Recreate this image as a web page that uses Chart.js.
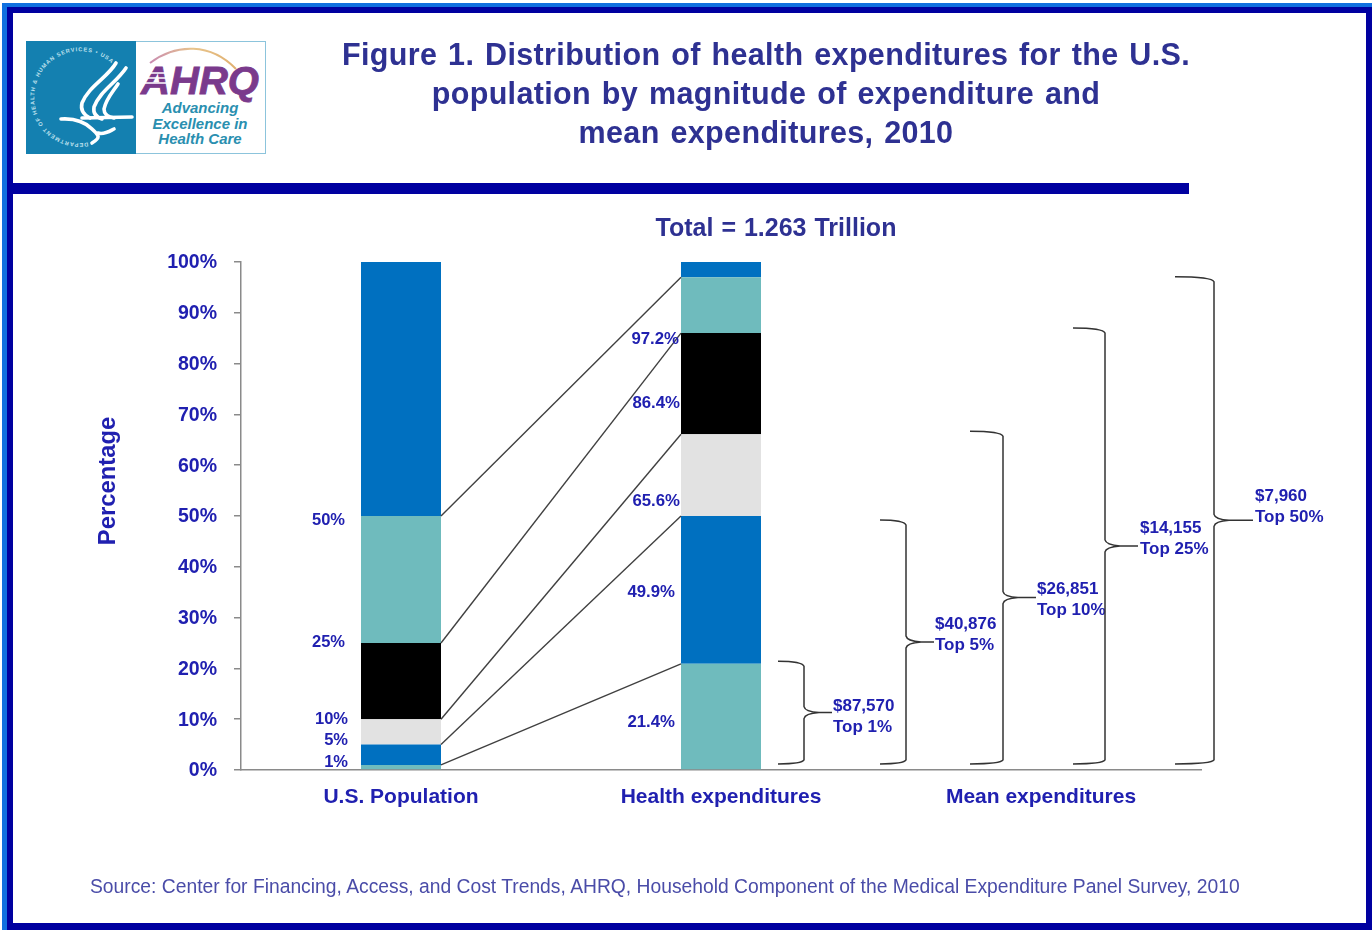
<!DOCTYPE html>
<html><head><meta charset="utf-8">
<script src="https://cdn.jsdelivr.net/npm/chart.js@4"></script>
<style>
html,body{margin:0;padding:0;background:#fff;overflow:hidden}
#page{position:relative;width:1372px;height:930px;background:#fff;font-family:"Liberation Sans",Arial,sans-serif;filter:blur(.35px)}
#b1{position:absolute;left:2px;top:3px;width:1370px;height:927px;background:#1070E0}
#b2{position:absolute;left:7px;top:7px;width:1365px;height:923px;background:#0000A0}
#b3{position:absolute;left:13px;top:13px;width:1353px;height:910px;background:#fff}
#rule{position:absolute;left:13px;top:183px;width:1176px;height:11px;background:#0000A0}
#c{position:absolute;left:0;top:0}
.t{position:absolute;white-space:pre;text-align:center;color:#2E3192;font-weight:bold}
#title{left:266px;width:1000px;top:35px;font-size:30.5px;line-height:39px;word-spacing:2px;letter-spacing:.35px}
#total{left:576px;width:400px;top:212px;font-size:25px;line-height:30px;word-spacing:1px}
#source{left:90px;top:875px;font-size:19.3px;line-height:23px;font-weight:normal;color:#4A4CA8;text-align:left}
#logo{position:absolute;left:26px;top:41px}
</style></head><body>
<div id="page">
<div id="b1"></div><div id="b2"></div><div id="b3"></div><div id="rule"></div>
<canvas id="c" width="1372" height="930"></canvas>
<svg id="logo" width="241" height="114" viewBox="0 0 241 114" font-family="Liberation Sans">
 <defs>
  <path id="ring" d="M 62 101.5 A 46 46 0 1 1 88 25"/>
  <linearGradient id="arc" x1="0" x2="1"><stop offset="0" stop-color="#c98bb0"/><stop offset=".5" stop-color="#e8c48c"/><stop offset="1" stop-color="#e0b070"/></linearGradient>
 </defs>
 <rect x=".5" y=".5" width="239" height="112" fill="#fff" stroke="#8CC4DC"/>
 <rect x="0" y="0" width="110" height="113" fill="#1480B0"/>
 <text font-size="5.6" font-weight="bold" fill="#bfe0ee" textLength="186"><textPath href="#ring">DEPARTMENT OF HEALTH &amp; HUMAN SERVICES • USA</textPath></text>
 <g fill="none" stroke="#fff" stroke-width="3.6" stroke-linecap="round" stroke-linejoin="round">
  <path d="M90 22 C82 36 62 46 56 62 C54 70 58 74 64 77"/>
  <path d="M100 27 C90 42 74 50 68 66 C67 72 70 76 76 78"/>
  <path d="M92 43 C86 52 80 58 78 68 C78 74 82 76 88 77"/>
  <path d="M35 78 C50 77 60 82 66 88 C72 94 76 96 66 102"/>
  <path d="M56 77 L106 76"/>
  <path d="M72 92 C78 94 84 90 88 88"/>
 </g>
 <path d="M124 22 C150 2 185 2 210 28" fill="none" stroke="url(#arc)" stroke-width="2"/>
 <text x="115" y="53" font-size="38" font-weight="bold" font-style="italic" fill="#7A3A8C" stroke="#7A3A8C" stroke-width=".8" textLength="118" lengthAdjust="spacingAndGlyphs">AHRQ</text>
 <g stroke="#fff" stroke-width="1.6"><path d="M116 32 L146 32 M116 37 L143 37 M116 42 L140 42"/></g>
 <g font-size="15" font-weight="bold" font-style="italic" fill="#2A8FB0" text-anchor="middle">
  <text x="174" y="72">Advancing</text>
  <text x="174" y="87.5">Excellence in</text>
  <text x="174" y="103">Health Care</text>
 </g>
</svg>
<div class="t" id="title">Figure 1. Distribution of health expenditures for the U.S.
population by magnitude of expenditure and
mean expenditures, 2010</div>
<div class="t" id="total">Total = 1.263 Trillion</div>
<div class="t" id="source">Source: Center for Financing, Access, and Cost Trends, AHRQ, Household Component of the Medical Expenditure Panel Survey, 2010</div>
</div>
<script>
// ---- data ----
const categories = ['U.S. Population', 'Health expenditures', 'Mean expenditures'];
const segTeal1  = [1, 20.9, null];
const segBlue1  = [4, 29.1, null];
const segGrey   = [5, 16.1, null];
const segBlack  = [15, 19.9, null];
const segTeal2  = [25, 11, null];
const segBlue2  = [50, 3, null];
const populationCuts  = [1, 5, 10, 25, 50];
const expenditureCuts = [20.9, 50, 66.1, 86, 97];
const braceTops = [21.4, 49.2, 66.7, 87, 97.1];
const populationLabels  = ['1%', '5%', '10%', '25%', '50%'];
const expenditureLabels = ['21.4%', '49.9%', '65.6%', '86.4%', '97.2%'];
const meanValues = ['$87,570', '$40,876', '$26,851', '$14,155', '$7,960'];
const meanGroups = ['Top 1%', 'Top 5%', 'Top 10%', 'Top 25%', 'Top 50%'];

// ---- styling and placement ----
const TEAL='#6FBBBD', BLUE='#0070C0', GREY='#E2E2E2', BLACK='#000';
const INK='#2020B0', FONT='"Liberation Sans", Arial, sans-serif';
const popLabelPos = [[348,762],[348,740],[348,719],[345,642],[345,520]];
const expLabelPos = [[675,722],[675,592],[680,501],[680,403],[679,339]];
const meanX = [833,935,1037,1140,1255];
const meanY = [706,624,589,528,496];
const braceX = [[778,804,832],[880,906,934],[970,1003,1036],[1073,1105,1138],[1175,1214,1253]];
const BRACE_BOTTOM = 1.2;

const seg=(label,data,color)=>({type:'bar',label,data,backgroundColor:color,borderWidth:0,stack:'s',grouped:false,
  categoryPercentage:1,barPercentage:.25,order:2});
const connectors = populationCuts.map((v,i)=>({type:'line',xAxisID:'xl',order:1,
  data:[{x:.625,y:v},{x:1.375,y:expenditureCuts[i]}],
  borderColor:'#404040',borderWidth:1.4,pointRadius:0,tension:0,fill:false}));

const annotate={id:'annotate',afterDatasetsDraw(chart){
  const c=chart.ctx,y=chart.scales.y;
  c.save();
  c.textBaseline='middle';c.fillStyle=INK;
  c.save();c.translate(108,481);c.rotate(-Math.PI/2);c.textAlign='center';
  c.font='bold 23.8px '+FONT;c.fillText('Percentage',0,0);c.restore();
  c.font='bold 16.5px '+FONT;c.textAlign='right';
  populationLabels.forEach((t,i)=>c.fillText(t,popLabelPos[i][0],popLabelPos[i][1]));
  c.font='bold 16.8px '+FONT;
  expenditureLabels.forEach((t,i)=>c.fillText(t,expLabelPos[i][0],expLabelPos[i][1]));
  c.textAlign='left';c.font='bold 17px '+FONT;
  meanValues.forEach((t,i)=>{c.fillText(t,meanX[i],meanY[i]);c.fillText(meanGroups[i],meanX[i],meanY[i]+21);});
  c.strokeStyle='#333';c.lineWidth=1.5;
  braceTops.forEach((v,i)=>{
    const [a,b,tip]=braceX[i],top=y.getPixelForValue(v),bot=y.getPixelForValue(BRACE_BOTTOM),mid=(top+bot)/2;
    c.beginPath();c.moveTo(a,top);
    c.quadraticCurveTo(b-2,top,b,top+5);
    c.lineTo(b,mid-6);
    c.quadraticCurveTo(b+1,mid-1,b+15,mid);
    c.lineTo(tip,mid);
    c.moveTo(b+15,mid);
    c.quadraticCurveTo(b+1,mid+1,b,mid+6);
    c.lineTo(b,bot-4);
    c.quadraticCurveTo(b-2,bot,a,bot);
    c.stroke();
  });
  c.restore();
}};

new Chart(document.getElementById('c'),{
  type:'bar',
  data:{labels:categories,datasets:[
    seg('Top 1%',segTeal1,TEAL),seg('Top 5%',segBlue1,BLUE),seg('Top 10%',segGrey,GREY),
    seg('Top 25%',segBlack,BLACK),seg('Top 50%',segTeal2,TEAL),seg('Bottom 50%',segBlue2,BLUE),
    ...connectors]},
  plugins:[annotate],
  options:{
    responsive:false,animation:false,
    layout:{padding:{left:95,right:171,top:262,bottom:100}},
    plugins:{legend:{display:false},tooltip:{enabled:false},title:{display:false}},
    scales:{
      x:{type:'category',position:'bottom',offset:true,
        grid:{display:false},border:{color:'#8a8a8a',width:1.5},
        ticks:{color:INK,padding:7,maxRotation:0,font:{family:FONT,size:21,weight:'bold'}},
        afterFit(s){s.height=60;}},
      xl:{type:'linear',min:0,max:3,display:false,offset:false,position:'bottom'},
      y:{type:'linear',min:0,max:100,position:'left',
        grid:{drawOnChartArea:false,drawTicks:true,tickLength:7,color:'#8a8a8a',lineWidth:1.5},
        border:{color:'#8a8a8a',width:1.5},
        ticks:{stepSize:10,color:INK,padding:17,labelOffset:1,font:{family:FONT,size:19.5,weight:'bold'},callback:v=>v+'%'},
        afterFit(s){s.width=146;}}
    }
  }
});
</script>
</body></html>
